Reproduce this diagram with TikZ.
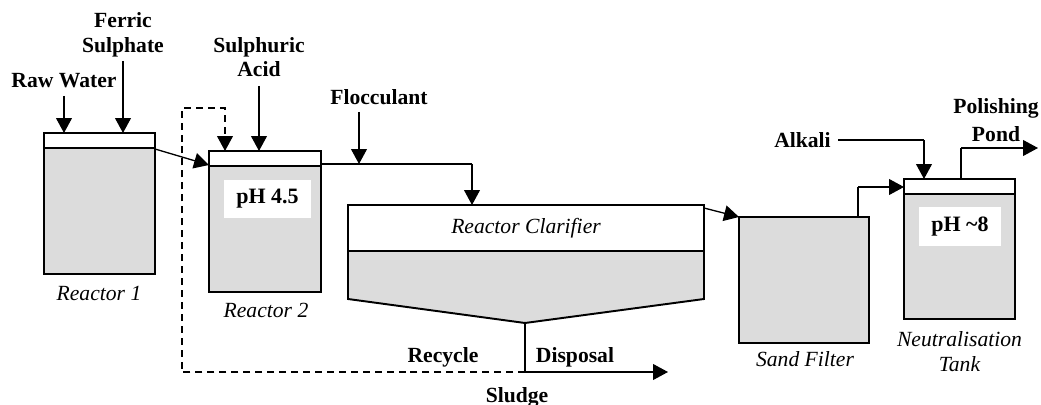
\documentclass[tikz,border=0pt]{standalone}
\usepackage{fontspec}
\setmainfont{Liberation Serif}
\usetikzlibrary{arrows.meta}
\definecolor{gris}{RGB}{220,220,220}

\begin{document}
\begin{tikzpicture}[x=0.02cm,y=-0.02cm,
  fleche/.style={line width=0.75pt,-{Triangle[length=8.5pt,width=9pt]}},
  ligne/.style={line width=0.75pt},
  tirets/.style={line width=0.75pt,dash pattern=on 4pt off 2.8pt},
  cuve/.style={line width=1.1pt},
  gras/.style={font=\fontsize{12.3}{14}\selectfont\bfseries,align=center,inner sep=1pt},
  ital/.style={font=\fontsize{12.3}{14}\selectfont\itshape,align=center,inner sep=1pt},
  etiq/.style={fill=white,font=\fontsize{12.5}{14}\selectfont\bfseries,inner sep=0pt}]

\useasboundingbox (0,0) rectangle (1041,405);

% Remplissage des cuves
\fill[gris] (44,148) rectangle (155,274);
\fill[gris] (209,166) rectangle (321,292);
\fill[gris] (348,251) -- (704,251) -- (704,299) -- (525,323) -- (348,299) -- cycle;
\fill[gris] (739,217) rectangle (869,343);
\fill[gris] (904,194) rectangle (1015,319);

% Contour des cuves
\draw[cuve] (44,133) rectangle (155,274);
\draw[cuve] (44,148) -- (155,148);
\draw[cuve] (209,151) rectangle (321,292);
\draw[cuve] (209,166) -- (321,166);
\draw[cuve] (348,205) -- (704,205) -- (704,299) -- (525,323) -- (348,299) -- cycle;
\draw[cuve] (348,251) -- (704,251);
\draw[cuve] (739,217) rectangle (869,343);
\draw[cuve] (904,179) rectangle (1015,319);
\draw[cuve] (904,194) -- (1015,194);

% Points d'entree et de sortie
\coordinate (r1a) at (64,133);
\coordinate (r1b) at (123,133);
\coordinate (r1s) at (155,149);
\coordinate (r2e) at (209,165);
\coordinate (r2a) at (259,151);
\coordinate (r2r) at (225,151);
\coordinate (r2s) at (321,164);
\coordinate (flo) at (359,164);
\coordinate (cle) at (472,205);
\coordinate (cls) at (704,208);
\coordinate (clf) at (525,323);
\coordinate (boue) at (525,372);
\coordinate (rej) at (668,372);
\coordinate (rc1) at (182,372);
\coordinate (rc2) at (182,108);
\coordinate (rc3) at (225,108);
\coordinate (sfe) at (739,217);
\coordinate (sfs) at (858,217);
\coordinate (nte) at (904,187);
\coordinate (nta) at (924,179);
\coordinate (nts) at (961,179);
\coordinate (pol) at (1038,148);

% Plaques pH
\node[etiq,minimum width=87*0.02cm,minimum height=38*0.02cm] (ph1) at (267.5,199) {pH 4.5};
\node[etiq,minimum width=82*0.02cm,minimum height=39*0.02cm] (ph2) at (960,226.5) {pH \textasciitilde8};

% Noms des reactifs
\node[gras] (raw) at (64,81) {Raw Water};
\node[gras] (fer) at (123,35) {Ferric\\Sulphate};
\node[gras] (acid) at (259,57) {Sulphuric\\Acid};
\node[gras] (floc) at (379,97.5) {Flocculant};
\node[gras] (alk) at (802.5,140) {Alkali};
\node[gras,font=\fontsize{12.3}{16}\selectfont\bfseries] (pond) at (996,120) {Polishing\\Pond};
\node[gras] (recy) at (443,357) {Recycle};
\node[gras] (disp) at (575,357) {Disposal};
\node[gras] (slu) at (517,397) {Sludge};

% Noms des cuves
\node[ital] (n1) at (99,293) {Reactor 1};
\node[ital] (n2) at (266,310) {Reactor 2};
\node[ital] (n3) at (526,228) {Reactor Clarifier};
\node[ital] (n4) at (805,359) {Sand Filter};
\node[ital] (n5) at (959.5,351.5) {Neutralisation\\Tank};

% Fleches des reactifs
\draw[fleche] (64,96) -- (r1a);
\draw[fleche] (123,61) -- (r1b);
\draw[fleche] (259,86) -- (r2a);
\draw[fleche] (359,112) -- (flo);
\draw[ligne] (838,140) -- (alk.east -| nta);
\draw[fleche] (alk.east -| nta) -- (nta);

% Circulation de l'eau
\draw[fleche] (r1s) -- (r2e);
\draw[ligne] (r2s) -- (cle |- r2s);
\draw[fleche] (cle |- r2s) -- (cle);
\draw[fleche] (cls) -- (sfe);
\draw[ligne] (sfs) -- (sfs |- nte);
\draw[fleche] (sfs |- nte) -- (nte);
\draw[ligne] (nts) -- (nts |- pol);
\draw[fleche] (nts |- pol) -- (pol);

% Boues
\draw[ligne] (clf) -- (boue);
\draw[fleche] (boue) -- (rej);
\draw[tirets] (boue) -- (rc1) -- (rc2) -- (rc3) -- (225,140);
\draw[fleche] (225,139) -- (r2r);

\end{tikzpicture}
\end{document}
